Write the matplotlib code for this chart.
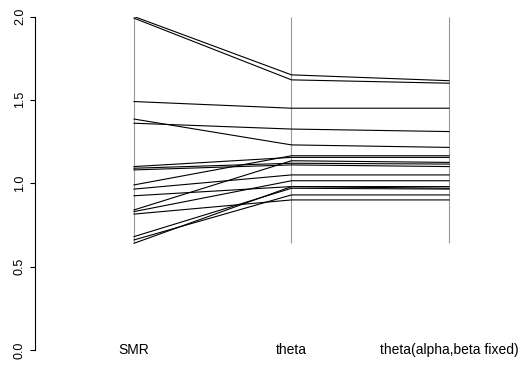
import numpy as np
import matplotlib
matplotlib.use("Agg")
import matplotlib.pyplot as plt

plt.rcParams['font.family'] = ['Liberation Sans', 'DejaVu Sans']

# -------------------------
# Data
# -------------------------
axis_labels = ["SMR", "theta", "theta(alpha,beta fixed)"]

smr = [2.00, 1.99, 1.49, 1.385, 1.36, 1.10, 1.09, 1.08, 0.99, 0.965,
       0.925, 0.84, 0.83, 0.815, 0.68, 0.66, 0.64]
theta = [1.65, 1.62, 1.45, 1.23, 1.325, 1.155, 1.12, 1.11, 1.165, 1.05,
         0.98, 1.135, 1.015, 0.90, 0.97, 0.93, 0.98]
theta_fixed = [1.615, 1.60, 1.45, 1.215, 1.31, 1.155, 1.115, 1.10, 1.165, 1.05,
               0.97, 1.125, 1.015, 0.90, 0.965, 0.93, 0.98]

yticks = [0.0, 0.5, 1.0, 1.5, 2.0]

# -------------------------
# Plot
# -------------------------
W, H = 531, 368
fig = plt.figure(figsize=(W / 100, H / 100), dpi=100)

# pixel layout of the plotting area
left_px, right_px = 35, 520
top_px, bottom_px = 16.5, 350
ax = fig.add_axes([left_px / W, (H - bottom_px) / H,
                   (right_px - left_px) / W, (bottom_px - top_px) / H])

x = np.arange(1, len(axis_labels) + 1)
data = np.array([smr, theta, theta_fixed])

# x mapping: 1 -> 134px, 2 -> 291.5px, 3 -> 449px
unit = 157.5
ax.set_xlim(1 - (134 - left_px) / unit, 1 + (right_px - 134) / unit)
ax.set_ylim(0, 2)

# grey guide lines spanning the data range
ax.vlines(x, data.min(), data.max(), color='#999999', lw=0.8, zorder=1)

for i in range(data.shape[1]):
    ax.plot(x, data[:, i], color='black', lw=0.8, zorder=2)

for xi, lab in zip(x, axis_labels):
    ax.text(xi, 0.0, lab, ha='center', va='center', fontsize=10, clip_on=False)

for s in ['top', 'right', 'bottom']:
    ax.spines[s].set_visible(False)
ax.spines['left'].set_linewidth(0.8)
ax.spines['left'].set_bounds(0, 2)

ax.set_xticks([])
ax.set_yticks(yticks)
ax.set_yticklabels([f"{t:.1f}" for t in yticks], rotation=90, va='center', fontsize=9)
ax.tick_params(axis='y', length=3.5, width=0.8, pad=3)

fig.savefig("out.png", dpi=100)
